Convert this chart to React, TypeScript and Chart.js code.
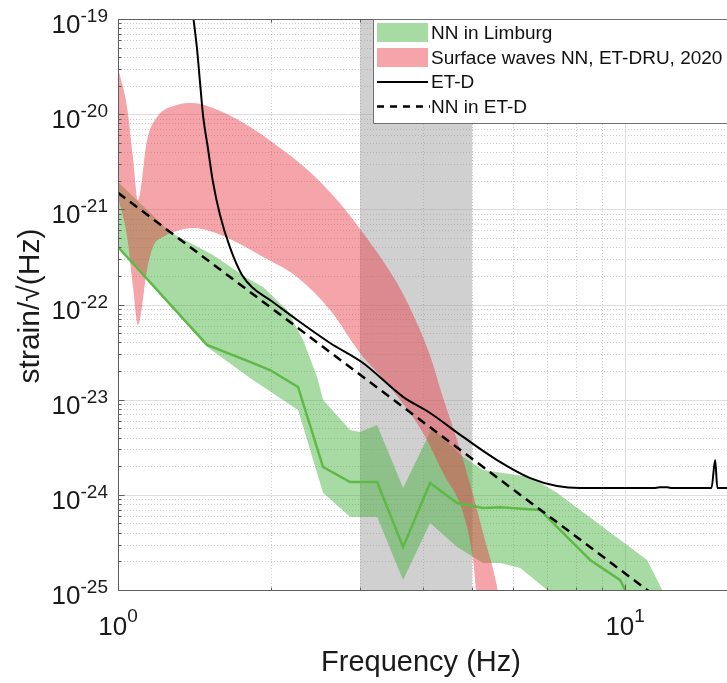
import React, { useEffect, useRef } from 'react';
import { Chart, registerables } from 'chart.js';

Chart.register(...registerables);

// ---------- data ----------
const xMin = 1;
const xMax = 17;
const yMin = 1e-25;
const yMax = 1e-19;
const xTickExponents = [0, 1];
const yTickExponents = [-25, -24, -23, -22, -21, -20, -19];

// ET-D sensitivity curve
const etdFreq = [1.39, 1.406, 1.431, 1.451, 1.471, 1.504, 1.539, 1.589, 1.664, 1.756, 1.846, 1.994, 2.255, 2.619, 3.042, 3.649, 4.125, 4.792, 5.59, 6.5, 7.34, 8.15, 11.38, 11.7, 12.1, 12.4, 14.8, 15.05, 15.2, 17];
const etdStrain = [1.9e-19, 1.1e-19, 4.96e-20, 2.18e-20, 9.8e-21, 4.41e-21, 1.94e-21, 8.72e-22, 3.93e-22, 2.04e-22, 1.49e-22, 1.115e-22, 6.88e-23, 3.94e-23, 2.43e-23, 1.07e-23, 7.24e-24, 4.06e-24, 2.32e-24, 1.5e-24, 1.24e-24, 1.18e-24, 1.18e-24, 1.2e-24, 1.2e-24, 1.18e-24, 1.18e-24, 2.32e-24, 1.18e-24, 1.18e-24];

// NN in ET-D (dashed)
const nnEtdFreq = [1, 2, 4, 8, 12];
const nnEtdStrain = [1.49e-21, 9.3e-23, 5.8e-24, 3.65e-25, 7.2e-26];

// NN in Limburg: median line
const limburgFreq = [1, 1.498, 1.821, 1.994, 2.265, 2.537, 2.869, 3.243, 3.649, 4.125, 4.663, 5.246, 5.67, 6.8, 7.61, 8.53, 9.78, 10, 10.3];
const limburgMedian = [4.02e-22, 3.76e-23, 2.49e-23, 2.05e-23, 1.36e-23, 1.96e-24, 1.36e-24, 1.36e-24, 2.83e-25, 1.33e-24, 8.2e-25, 7.27e-25, 7.4e-25, 6.93e-25, 3.79e-25, 2.07e-25, 1.27e-25, 1e-25, 6e-26];

// NN in Limburg: band upper / lower
const limburgHighFreq = [1, 1.266, 1.539, 1.796, 1.932, 2.154, 2.317, 2.47, 2.537, 2.869, 3.001, 3.243, 3.649, 4.163, 4.792, 5.246, 6.5, 7.34, 11.05, 11.83, 12.6];
const limburgHigh = [1.94e-21, 5.78e-22, 3.31e-22, 1.9e-22, 1.53e-22, 8.75e-23, 4.24e-23, 1.73e-23, 9.93e-24, 4.8e-24, 4.57e-24, 5.42e-24, 1.18e-24, 5.04e-24, 2.5e-24, 1.82e-24, 1.54e-24, 1.05e-24, 2.07e-25, 1e-25, 2.5e-26];
const limburgLowFreq = [1, 1.498, 1.821, 2.265, 2.537, 2.869, 3.243, 3.649, 4.125, 4.663, 5.246, 5.67, 6.21, 7.02, 12.6];
const limburgLow = [3.9e-22, 3.6e-23, 1.69e-23, 7.8e-24, 1.05e-24, 5.85e-25, 5.85e-25, 1.27e-25, 5.06e-25, 2.83e-25, 1.92e-25, 1.92e-25, 1.7e-25, 1e-25, 1e-28];

// Surface waves NN, ET-DRU 2020: band upper / lower
const surfHighFreq = [1, 1.042, 1.07, 1.095, 1.141, 1.194, 1.307, 1.406, 1.539, 1.796, 2.087, 2.391, 2.704, 3.042, 3.55, 3.8, 4.125, 4.375, 4.663, 5.0, 5.246, 5.59, 5.8];
const surfHigh = [3.05e-20, 1.19e-20, 3.55e-21, 1.25e-21, 5.35e-21, 9.34e-21, 1.25e-20, 1.31e-20, 1.16e-20, 7.69e-21, 4.41e-21, 2.47e-21, 1.25e-21, 5.64e-22, 1.68e-22, 8.3e-23, 2.9e-23, 1.05e-23, 3.77e-24, 1.05e-24, 3.97e-25, 1.08e-25, 3e-26];
const surfLowFreq = [1, 1.042, 1.07, 1.095, 1.141, 1.172, 1.227, 1.325, 1.406, 1.539, 1.664, 1.932, 2.255, 2.619, 3.001, 3.439, 3.995, 4.375, 4.792, 5.014, 5.08, 5.8];
const surfLow = [1.35e-21, 5.2e-22, 1.56e-22, 6.09e-23, 2.31e-22, 4.02e-22, 5.12e-22, 6.07e-22, 6.37e-22, 5.78e-22, 4.88e-22, 3.16e-22, 1.95e-22, 8.75e-23, 3.1e-23, 1.36e-23, 4.47e-24, 1.7e-24, 6.45e-25, 2.07e-25, 1e-25, 1e-28];

// grey frequency band
const bandFreq = [3, 5];
const bandTop = [1e-18, 1e-18];
const bandBottom = 1e-26;

// legend
const legendLabels = ['NN in Limburg', 'Surface waves NN, ET-DRU, 2020', 'ET-D', 'NN in ET-D'];

// ---------- styles ----------
const FONT = "'Liberation Sans', Arial, Helvetica, sans-serif";
const GREEN_FILL = 'rgba(60,175,50,0.45)';
const RED_FILL = 'rgba(232,55,65,0.45)';
const GREY_FILL = 'rgba(150,150,150,0.45)';
const GREEN_LINE = 'rgb(95,185,70)';
const AXIS = '#5f5f5f';

const pts = (xs: number[], ys: number[]) => xs.map((x, i) => ({ x, y: ys[i] }));

const matlabPlugin = {
  id: 'matlabLook',
  beforeDatasetsDraw(chart: any) {
    const { ctx, chartArea: a, scales } = chart;
    const xs = scales.x;
    const ys = scales.y;
    ctx.save();
    ctx.beginPath();
    ctx.rect(a.left, a.top, a.right - a.left, a.bottom - a.top);
    ctx.clip();
    ctx.lineWidth = 1;
    // minor grid (dotted)
    ctx.strokeStyle = '#cdcdcd';
    ctx.setLineDash([1, 2]);
    for (let e = -25; e < -19; e++) {
      for (let k = 2; k <= 9; k++) {
        const py = Math.round(ys.getPixelForValue(k * Math.pow(10, e))) + 0.5;
        ctx.beginPath();
        ctx.moveTo(a.left, py);
        ctx.lineTo(a.right, py);
        ctx.stroke();
      }
    }
    for (let e = 0; e <= 1; e++) {
      for (let k = 2; k <= 9; k++) {
        const v = k * Math.pow(10, e);
        if (v > xMax) continue;
        const px = Math.round(xs.getPixelForValue(v)) + 0.5;
        ctx.beginPath();
        ctx.moveTo(px, a.top);
        ctx.lineTo(px, a.bottom);
        ctx.stroke();
      }
    }
    // major grid
    ctx.setLineDash([]);
    ctx.strokeStyle = '#dedede';
    for (const e of yTickExponents) {
      const py = Math.round(ys.getPixelForValue(Math.pow(10, e))) + 0.5;
      ctx.beginPath();
      ctx.moveTo(a.left, py);
      ctx.lineTo(a.right, py);
      ctx.stroke();
    }
    for (const e of xTickExponents) {
      const px = Math.round(xs.getPixelForValue(Math.pow(10, e))) + 0.5;
      ctx.beginPath();
      ctx.moveTo(px, a.top);
      ctx.lineTo(px, a.bottom);
      ctx.stroke();
    }
    ctx.restore();
  },
  afterDatasetsDraw(chart: any) {
    const { ctx, chartArea: a, scales } = chart;
    const xs = scales.x;
    const ys = scales.y;
    ctx.save();
    // axes lines
    ctx.strokeStyle = AXIS;
    ctx.lineWidth = 1;
    ctx.setLineDash([]);
    const L = Math.round(a.left) + 0.5;
    const B = Math.round(a.bottom) + 0.5;
    const T = Math.round(a.top) + 0.5;
    ctx.beginPath();
    ctx.moveTo(L, T);
    ctx.lineTo(L, B);
    ctx.lineTo(a.right + 5, B);
    ctx.moveTo(L, T);
    ctx.lineTo(a.right + 5, T);
    ctx.stroke();
    // ticks (inward)
    ctx.beginPath();
    for (let e = -25; e <= -19; e++) {
      for (let k = 1; k <= 9; k++) {
        const v = k * Math.pow(10, e);
        if (v > yMax * 1.0001) continue;
        const py = Math.round(ys.getPixelForValue(v)) + 0.5;
        const len = k === 1 ? 6 : 3;
        ctx.moveTo(L, py);
        ctx.lineTo(L + len, py);
      }
    }
    for (let e = 0; e <= 1; e++) {
      for (let k = 1; k <= 9; k++) {
        const v = k * Math.pow(10, e);
        if (v > xMax) continue;
        const px = Math.round(xs.getPixelForValue(v)) + 0.5;
        const len = k === 1 ? 6 : 3;
        ctx.moveTo(px, B);
        ctx.lineTo(px, B - len);
        ctx.moveTo(px, T);
        ctx.lineTo(px, T + len);
      }
    }
    ctx.stroke();

    // tick labels
    ctx.fillStyle = '#1a1a1a';
    ctx.textBaseline = 'alphabetic';
    ctx.textAlign = 'left';
    const baseFont = `26px ${FONT}`;
    const expFont = `19px ${FONT}`;
    for (const e of yTickExponents) {
      const py = ys.getPixelForValue(Math.pow(10, e));
      const expStr = String(e);
      ctx.font = expFont;
      const wE = ctx.measureText(expStr).width;
      const xExp = 108 - wE;
      ctx.fillText(expStr, xExp, py + 3);
      ctx.font = baseFont;
      const wB = ctx.measureText('10').width;
      ctx.fillText('10', xExp - wB, py + 14);
    }
    for (const e of xTickExponents) {
      const px = xs.getPixelForValue(Math.pow(10, e));
      const expStr = String(e);
      ctx.font = baseFont;
      const wB = ctx.measureText('10').width;
      ctx.font = expFont;
      const wE = ctx.measureText(expStr).width;
      const start = px - (wB + wE) / 2;
      ctx.font = baseFont;
      ctx.fillText('10', start, 635);
      ctx.font = expFont;
      ctx.fillText(expStr, start + wB, 622);
    }

    // axis titles
    ctx.font = `29px ${FONT}`;
    ctx.textAlign = 'center';
    ctx.fillText('Frequency (Hz)', 421, 671);
    ctx.save();
    ctx.translate(39, 306);
    ctx.rotate(-Math.PI / 2);
    ctx.font = `30px ${FONT}`;
    ctx.fillText('strain/\u221A(Hz)', 0, 0);
    ctx.restore();

    // legend
    const lx = 373.5;
    const ly = 19.5;
    const lb = 123.5;
    ctx.fillStyle = '#ffffff';
    ctx.fillRect(lx, ly, 800, lb - ly);
    ctx.strokeStyle = '#707070';
    ctx.lineWidth = 1;
    ctx.beginPath();
    ctx.moveTo(lx + 800, ly);
    ctx.lineTo(lx, ly);
    ctx.lineTo(lx, lb);
    ctx.lineTo(lx + 800, lb);
    ctx.stroke();
    const rows = [32.5, 57.5, 82, 106.5];
    // swatches
    ctx.fillStyle = GREEN_FILL;
    ctx.fillRect(377, rows[0] - 9.5, 51, 19);
    ctx.fillStyle = RED_FILL;
    ctx.fillRect(377, rows[1] - 9.5, 51, 19);
    ctx.strokeStyle = '#000';
    ctx.lineWidth = 2;
    ctx.beginPath();
    ctx.moveTo(377, rows[2]);
    ctx.lineTo(428, rows[2]);
    ctx.stroke();
    ctx.lineWidth = 2.5;
    ctx.setLineDash([7, 6]);
    ctx.beginPath();
    ctx.moveTo(377, rows[3]);
    ctx.lineTo(430, rows[3]);
    ctx.stroke();
    ctx.setLineDash([]);
    ctx.fillStyle = '#111';
    ctx.font = `19px ${FONT}`;
    ctx.textAlign = 'left';
    ctx.textBaseline = 'middle';
    legendLabels.forEach((t, i) => ctx.fillText(t, 431, rows[i] + 1));
    ctx.restore();
  },
};

export default function App() {
  const ref = useRef<HTMLCanvasElement | null>(null);
  useEffect(() => {
    if (!ref.current) return;
    const chart = new Chart(ref.current, {
      type: 'line',
      data: {
        datasets: [
          { label: 'ET-D', data: pts(etdFreq, etdStrain), borderColor: '#000', borderWidth: 2, pointRadius: 0, fill: false, order: 1, cubicInterpolationMode: 'monotone' },
          { label: 'NN in ET-D', data: pts(nnEtdFreq, nnEtdStrain), borderColor: '#000', borderWidth: 2.5, borderDash: [9, 6], pointRadius: 0, fill: false, order: 2 },
          { label: 'NN in Limburg median', data: pts(limburgFreq, limburgMedian), borderColor: GREEN_LINE, borderWidth: 2.5, pointRadius: 0, fill: false, order: 3 },
          { label: 'Surface waves NN, ET-DRU, 2020', data: pts(surfHighFreq, surfHigh), borderColor: 'transparent', borderWidth: 0, backgroundColor: RED_FILL, fill: 4, pointRadius: 0, order: 8, cubicInterpolationMode: 'monotone' },
          { label: 'surface low', data: pts(surfLowFreq, surfLow), borderColor: 'transparent', borderWidth: 0, pointRadius: 0, fill: false, order: 8, cubicInterpolationMode: 'monotone' },
          { label: 'NN in Limburg', data: pts(limburgHighFreq, limburgHigh), borderColor: 'transparent', borderWidth: 0, backgroundColor: GREEN_FILL, fill: 6, pointRadius: 0, order: 9 },
          { label: 'limburg low', data: pts(limburgLowFreq, limburgLow), borderColor: 'transparent', borderWidth: 0, pointRadius: 0, fill: false, order: 9 },
          { label: 'band', data: pts(bandFreq, bandTop), borderColor: 'transparent', borderWidth: 0, backgroundColor: GREY_FILL, fill: { value: bandBottom }, pointRadius: 0, order: 10 },
        ],
      },
      options: {
        responsive: false,
        maintainAspectRatio: false,
        animation: false,
        events: [],
        layout: { padding: { left: 118, top: 19, right: 0, bottom: 93 } },
        scales: {
          x: { type: 'logarithmic', min: xMin, max: xMax, display: false },
          y: { type: 'logarithmic', min: yMin, max: yMax, display: false },
        },
        plugins: { legend: { display: false }, tooltip: { enabled: false } },
      },
      plugins: [matlabPlugin],
    } as any);
    return () => chart.destroy();
  }, []);
  return (
    <div style={{ position: 'fixed', left: 0, top: 0, width: 727, height: 683, overflow: 'hidden', background: '#fff' }}>
      <canvas ref={ref} width={742} height={683} style={{ display: 'block', width: 742, height: 683 }} />
    </div>
  );
}
